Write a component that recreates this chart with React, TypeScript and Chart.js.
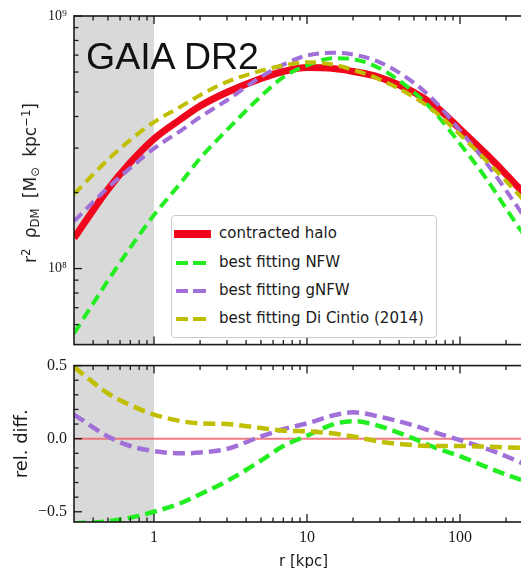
import React, { useEffect, useRef } from "react";
import { Chart, registerables } from "chart.js";
Chart.register(...registerables);

// ---------- data ----------
const radii = [0.3, 0.5, 0.7, 1, 1.5, 2, 3, 5, 7, 10, 15, 20, 30, 50, 70, 100, 150, 200, 300];

const contractedHalo = [1.32e8, 2.06e8, 2.63e8, 3.265e8, 3.91e8, 4.40e8, 4.99e8, 5.66e8, 6.03e8, 6.25e8, 6.19e8, 6.03e8, 5.71e8, 4.99e8, 4.36e8, 3.57e8, 2.82e8, 2.36e8, 1.815e8];
const bestNFW = [0.554e8, 0.896e8, 1.21e8, 1.63e8, 2.19e8, 2.73e8, 3.54e8, 4.81e8, 5.73e8, 6.375e8, 6.81e8, 6.75e8, 6.20e8, 4.99e8, 4.08e8, 3.12e8, 2.25e8, 1.73e8, 1.20e8];
const bestGNFW = [1.54e8, 2.09e8, 2.50e8, 2.99e8, 3.52e8, 3.98e8, 4.64e8, 5.74e8, 6.42e8, 6.98e8, 7.15e8, 7.04e8, 6.55e8, 5.44e8, 4.53e8, 3.52e8, 2.60e8, 2.04e8, 1.42e8];
const bestDiCintio = [1.97e8, 2.70e8, 3.23e8, 3.80e8, 4.38e8, 4.86e8, 5.49e8, 6.07e8, 6.36e8, 6.56e8, 6.41e8, 6.12e8, 5.60e8, 4.77e8, 4.14e8, 3.39e8, 2.66e8, 2.22e8, 1.70e8];

const relContracted = [0, 0, 0, 0, 0, 0, 0, 0, 0, 0, 0, 0, 0, 0, 0, 0, 0, 0, 0];
const relNFW = [-0.58, -0.565, -0.54, -0.50, -0.44, -0.38, -0.29, -0.15, -0.05, 0.02, 0.10, 0.12, 0.085, 0.0, -0.065, -0.12, -0.195, -0.245, -0.31];
const relGNFW = [0.165, 0.015, -0.05, -0.085, -0.10, -0.095, -0.07, 0.015, 0.065, 0.105, 0.16, 0.18, 0.15, 0.09, 0.04, -0.01, -0.07, -0.12, -0.20];
const relDiCintio = [0.49, 0.31, 0.23, 0.165, 0.12, 0.105, 0.10, 0.073, 0.055, 0.05, 0.035, 0.015, -0.02, -0.045, -0.05, -0.05, -0.055, -0.06, -0.065];

const seriesLabels = ["contracted halo", "best fitting NFW", "best fitting gNFW", "best fitting Di Cintio (2014)"];

// axes
const X_MIN = 0.305;
const X_MAX = 300;
const SHADE_MAX = 1;
const xLabelTicks = [1, 10, 100];
const xMinorTicks = [0.4, 0.5, 0.6, 0.7, 0.8, 0.9, 2, 3, 4, 5, 6, 7, 8, 9, 20, 30, 40, 50, 60, 70, 80, 90, 200, 300];
const topYMin = 5e7;
const topYMax = 1e9;
const topYLabelTicks = [1e8, 1e9];
const topYMinorTicks = [6e7, 7e7, 8e7, 9e7, 2e8, 3e8, 4e8, 5e8, 6e8, 7e8, 8e8, 9e8];
const botYMin = -0.57;
const botYMax = 0.5;
const botYLabelTicks = [-0.5, 0, 0.5];
const botYMinorTicks = [-0.4, -0.3, -0.2, -0.1, 0.1, 0.2, 0.3, 0.4];

// ---------- styles ----------
const RED = "#f0061c";
const GREEN = "#22ee22";
const PURPLE = "#a06fd8";
const OLIVE = "#bfbf00";
const ZERO = "rgba(240,100,110,0.85)";
const INK = "#1a1a1a";

const pts = (ys: number[]) => radii.map((r, i) => ({ x: r, y: ys[i] }));
const supDigit: Record<string, string> = { "7": "⁷", "8": "⁸", "9": "⁹" };

function framePlugin(yMajor: number[], yMinor: number[]) {
  return {
    id: "frameTicks",
    beforeDatasetsDraw(chart: any) {
      const { ctx, chartArea: a, scales } = chart;
      const xs = scales.x;
      const x1 = xs.getPixelForValue(SHADE_MAX);
      ctx.save();
      ctx.fillStyle = "#d9d9d9";
      ctx.fillRect(a.left, a.top, x1 - a.left, a.bottom - a.top);
      ctx.restore();
    },
    afterDatasetsDraw(chart: any) {
      const { ctx, chartArea: a, scales } = chart;
      const xs = scales.x;
      const ys = scales.y;
      ctx.save();
      ctx.strokeStyle = INK;
      ctx.lineWidth = 1.3;
      const line = (x0: number, y0: number, x1: number, y1: number) => {
        ctx.beginPath();
        ctx.moveTo(x0, y0);
        ctx.lineTo(x1, y1);
        ctx.stroke();
      };
      const xt = (v: number, len: number) => {
        const p = xs.getPixelForValue(v);
        line(p, a.bottom, p, a.bottom - len);
        line(p, a.top, p, a.top + len);
      };
      const yt = (v: number, len: number) => {
        const p = ys.getPixelForValue(v);
        line(a.left, p, a.left + len, p);
        line(a.right, p, a.right - len, p);
      };
      xLabelTicks.forEach((v) => xt(v, 8));
      xMinorTicks.forEach((v) => xt(v, 4.5));
      yMajor.forEach((v) => yt(v, 8));
      yMinor.forEach((v) => yt(v, 4.5));
      ctx.lineWidth = 1.6;
      ctx.strokeRect(a.left, a.top, a.right - a.left, a.bottom - a.top);
      ctx.restore();
    },
  };
}

const lineDs = (label: string, data: number[], color: string, width: number, dash: number[], order: number) => ({
  label,
  data: pts(data),
  borderColor: color,
  backgroundColor: color,
  borderWidth: width,
  borderDash: dash,
  borderCapStyle: "butt" as const,
  pointRadius: 0,
  fill: false,
  order,
  cubicInterpolationMode: "monotone" as const,
});

export default function App() {
  const topRef = useRef<HTMLCanvasElement>(null);
  const botRef = useRef<HTMLCanvasElement>(null);

  useEffect(() => {
    const tickFont = { family: "'Liberation Serif', 'DejaVu Serif', serif", size: 16 };
    const top = new Chart(topRef.current!, {
      type: "line",
      data: {
        datasets: [
          lineDs(seriesLabels[0], contractedHalo, RED, 7, [], 4),
          lineDs(seriesLabels[1], bestNFW, GREEN, 4, [11, 6], 3),
          lineDs(seriesLabels[2], bestGNFW, PURPLE, 4, [11, 6], 2),
          lineDs(seriesLabels[3], bestDiCintio, OLIVE, 4, [11, 6], 1),
        ],
      },
      options: {
        responsive: false,
        animation: false,
        events: [],
        layout: { padding: { top: 16, bottom: 13, left: 0, right: 14 } },
        plugins: { legend: { display: false }, tooltip: { enabled: false } },
        scales: {
          x: { type: "logarithmic", min: X_MIN, max: X_MAX, display: false },
          y: {
            type: "logarithmic",
            min: topYMin,
            max: topYMax,
            grid: { display: false, drawTicks: false },
            border: { display: false },
            afterBuildTicks: (s: any) => {
              s.ticks = topYLabelTicks.map((v) => ({ value: v }));
            },
            afterFit: (s: any) => {
              s.width = 74;
            },
            ticks: {
              autoSkip: false,
              padding: 7,
              color: INK,
              font: { family: "'Liberation Serif', 'DejaVu Serif', serif", size: 14 },
              callback: (v: any) => {
                const e = String(Math.round(Math.log10(Number(v))));
                return "10" + (supDigit[e] || e);
              },
            },
          },
        },
      } as any,
      plugins: [framePlugin(topYLabelTicks, topYMinorTicks)],
    });

    const bot = new Chart(botRef.current!, {
      type: "line",
      data: {
        datasets: [
          lineDs("contracted halo", relContracted, ZERO, 2, [], 5),
          lineDs(seriesLabels[1], relNFW, GREEN, 4.5, [12, 6], 3),
          lineDs(seriesLabels[2], relGNFW, PURPLE, 4.5, [12, 6], 2),
          lineDs(seriesLabels[3], relDiCintio, OLIVE, 4.5, [12, 6], 1),
        ],
      },
      options: {
        responsive: false,
        animation: false,
        events: [],
        layout: { padding: { top: 10, bottom: 3, left: 0, right: 14 } },
        plugins: { legend: { display: false }, tooltip: { enabled: false } },
        scales: {
          x: {
            type: "logarithmic",
            min: X_MIN,
            max: X_MAX,
            grid: { display: false, drawTicks: false },
            border: { display: false },
            afterBuildTicks: (s: any) => {
              s.ticks = xLabelTicks.map((v) => ({ value: v }));
            },
            afterFit: (s: any) => {
              s.height = 49;
            },
            ticks: {
              autoSkip: false,
              maxRotation: 0,
              padding: 6,
              color: INK,
              font: tickFont,
              callback: (v: any) => String(Number(v)),
            },
            title: {
              display: true,
              text: "r [kpc]",
              color: INK,
              font: { family: "'DejaVu Sans', sans-serif", size: 15 },
              padding: { top: 0, bottom: 0 },
            },
          },
          y: {
            type: "linear",
            min: botYMin,
            max: botYMax,
            grid: { display: false, drawTicks: false },
            border: { display: false },
            afterBuildTicks: (s: any) => {
              s.ticks = botYLabelTicks.map((v) => ({ value: v }));
            },
            afterFit: (s: any) => {
              s.width = 74;
            },
            ticks: {
              autoSkip: false,
              padding: 7,
              color: INK,
              font: tickFont,
              callback: (v: any) => {
                const n = Number(v);
                if (Math.abs(n) < 1e-9) return "0.0";
                return (n < 0 ? "\u2212" : "") + Math.abs(n).toFixed(1);
              },
            },
            title: {
              display: true,
              text: "rel. diff.",
              color: INK,
              font: { family: "'DejaVu Sans', sans-serif", size: 18 },
              padding: { top: 12, bottom: 0 },
            },
          },
        },
      } as any,
      plugins: [framePlugin(botYLabelTicks, botYMinorTicks)],
    });

    return () => {
      top.destroy();
      bot.destroy();
    };
  }, []);

  const sub: React.CSSProperties = { fontSize: "0.68em", verticalAlign: "-0.3em", lineHeight: 0 };
  const sup: React.CSSProperties = { fontSize: "0.68em", verticalAlign: "0.55em", lineHeight: 0 };

  const legendRows = [
    { label: seriesLabels[0], color: RED, solid: true, h: 8 },
    { label: seriesLabels[1], color: GREEN, solid: false, h: 4 },
    { label: seriesLabels[2], color: PURPLE, solid: false, h: 4 },
    { label: seriesLabels[3], color: OLIVE, solid: false, h: 3.5 },
  ];
  const rowY = [18, 47, 75, 103];

  return (
    <div style={{ position: "fixed", left: 0, top: 0, width: 521, height: 568, overflow: "hidden", background: "#fff" }}>
      <canvas ref={topRef} width={547} height={360} style={{ position: "absolute", left: 0, top: 0, width: 547, height: 360 }} />
      <canvas ref={botRef} width={547} height={225} style={{ position: "absolute", left: 0, top: 349, width: 547, height: 225 }} />

      <div
        style={{
          position: "absolute",
          left: 86,
          top: 38,
          font: "37.5px 'Liberation Sans', Arial, sans-serif",
          lineHeight: "37.5px",
          color: "#111",
          whiteSpace: "nowrap",
        }}
      >
        GAIA DR2
      </div>

      <div
        style={{
          position: "absolute",
          left: 30,
          top: 183,
          transform: "translate(-50%, -50%) rotate(-90deg)",
          whiteSpace: "nowrap",
          font: "17px 'DejaVu Sans', sans-serif",
          lineHeight: "20px",
          color: INK,
          wordSpacing: "5px",
        }}
      >
        r<span style={sup}>2</span> ρ<span style={sub}>DM</span> [M<span style={sub}>⊙</span> kpc<span style={sup}>−1</span>]
      </div>

      <div
        style={{
          position: "absolute",
          left: 171,
          top: 215,
          width: 266,
          height: 123,
          boxSizing: "border-box",
          border: "1.5px solid #cbcbcb",
          borderRadius: 4,
          background: "#fff",
        }}
      >
        {legendRows.map((r, i) => (
          <div key={i} style={{ position: "absolute", left: 0, top: rowY[i] - 10, height: 20, width: 260 }}>
            {r.solid ? (
              <div style={{ position: "absolute", left: 2, top: 10 - r.h / 2, width: 37, height: r.h, background: r.color }} />
            ) : (
              <>
                <div style={{ position: "absolute", left: 4, top: 10 - r.h / 2, width: 12, height: r.h, background: r.color }} />
                <div style={{ position: "absolute", left: 21, top: 10 - r.h / 2, width: 13, height: r.h, background: r.color }} />
              </>
            )}
            <div
              style={{
                position: "absolute",
                left: 47,
                top: 0,
                height: 20,
                lineHeight: "20px",
                font: "15px 'DejaVu Sans', sans-serif",
                color: INK,
                whiteSpace: "nowrap",
              }}
            >
              {r.label}
            </div>
          </div>
        ))}
      </div>
    </div>
  );
}
